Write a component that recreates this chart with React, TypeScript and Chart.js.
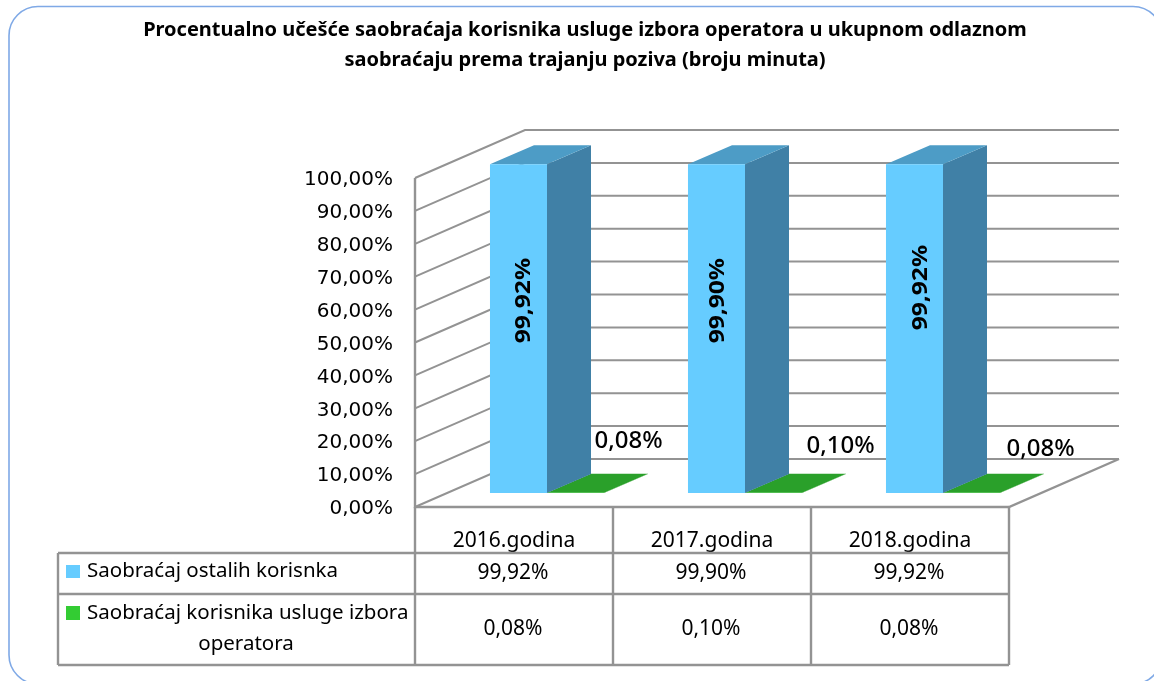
import React, { useEffect, useRef } from "react";
import { Chart, registerables } from "chart.js";

Chart.register(...registerables);

const titleLines = [
  "Procentualno učešće saobraćaja korisnika usluge izbora operatora u ukupnom odlaznom",
  "saobraćaju prema trajanju poziva (broju minuta)",
];
const categories = ["2016.godina", "2017.godina", "2018.godina"];
const otherUsers = [99.92, 99.9, 99.92];
const carrierUsers = [0.08, 0.1, 0.08];
const otherName = "Saobraćaj ostalih korisnka";
const carrierNameLines = ["Saobraćaj korisnika usluge izbora", "operatora"];

const FONT = "'Noto Sans', sans-serif";
const AXIS_FONT = "'DejaVu Sans', sans-serif";
const GRID = "#939393";
const BLUE = "#66CCFF";
const BLUE_SIDE = "#4080A6";
const BLUE_TOP = "#4D9CC6";
const GREEN = "#33CC33";
const GREEN_DARK = "#2AA02A";

// 3D projection of the chart box
const WALL = { dx: 110, dy: -48 };
const PLANE = { dx: 33, dy: -14 };
const DEPTH = { dx: 44, dy: -19 };
const TABLE = { left: 58, headerBottom: 553, row1Bottom: 594, bottom: 665 };

const fmt = (v: number) => v.toFixed(2).replace(".", ",") + "%";

function line(ctx: CanvasRenderingContext2D, pts: number[][]) {
  ctx.beginPath();
  pts.forEach(([x, y], i) => (i ? ctx.lineTo(x, y) : ctx.moveTo(x, y)));
  ctx.stroke();
}
function poly(ctx: CanvasRenderingContext2D, pts: number[][], fill: string) {
  ctx.beginPath();
  pts.forEach(([x, y], i) => (i ? ctx.lineTo(x, y) : ctx.moveTo(x, y)));
  ctx.closePath();
  ctx.fillStyle = fill;
  ctx.fill();
}

const box3d = {
  id: "box3d",
  beforeDraw(chart: any) {
    const ctx = chart.ctx as CanvasRenderingContext2D;
    ctx.save();
    ctx.fillStyle = "#ffffff";
    ctx.fillRect(0, 0, chart.width, chart.height);
    ctx.strokeStyle = "#7FA9E6";
    ctx.lineWidth = 1.6;
    ctx.beginPath();
    ctx.roundRect(9, 6.5, 1153, 677.5, 29);
    ctx.stroke();
    ctx.fillStyle = "#000";
    ctx.font = `bold 20px ${FONT}`;
    ctx.textAlign = "center";
    ctx.textBaseline = "middle";
    titleLines.forEach((t, i) => ctx.fillText(t, 585, 30 + i * 30));
    ctx.restore();
  },
  beforeDatasetsDraw(chart: any) {
    const ctx = chart.ctx as CanvasRenderingContext2D;
    const { x: xs, y: ys } = chart.scales;
    ctx.save();
    ctx.strokeStyle = GRID;
    ctx.lineWidth = 2;
    const l = xs.left;
    const r = xs.right;
    ys.ticks.forEach((t: any) => {
      const y = ys.getPixelForValue(t.value);
      line(ctx, [
        [l, y],
        [l + WALL.dx, y + WALL.dy],
        [r + WALL.dx, y + WALL.dy],
      ]);
    });
    const bottom = ys.getPixelForValue(0);
    const top = ys.getPixelForValue(100);
    ctx.lineWidth = 2.4;
    line(ctx, [
      [l, top],
      [l, bottom],
      [r, bottom],
      [r + WALL.dx, bottom + WALL.dy],
    ]);
    ctx.restore();
  },
  beforeDatasetDraw(chart: any, args: any) {
    const ctx = chart.ctx as CanvasRenderingContext2D;
    ctx.save();
    ctx.translate(PLANE.dx, PLANE.dy);
    const isBlue = args.index === 0;
    args.meta.data.forEach((b: any) => {
      const x0 = b.x - b.width / 2;
      const x1 = b.x + b.width / 2;
      const side = isBlue ? BLUE_SIDE : GREEN_DARK;
      const topC = isBlue ? BLUE_TOP : GREEN_DARK;
      poly(ctx, [[x1, b.y], [x1 + DEPTH.dx, b.y + DEPTH.dy], [x1 + DEPTH.dx, b.base + DEPTH.dy], [x1, b.base]], side);
      poly(ctx, [[x0, b.y], [x0 + DEPTH.dx, b.y + DEPTH.dy], [x1 + DEPTH.dx, b.y + DEPTH.dy], [x1, b.y]], topC);
    });
  },
  afterDatasetDraw(chart: any) {
    chart.ctx.restore();
  },
  afterDatasetsDraw(chart: any) {
    const ctx = chart.ctx as CanvasRenderingContext2D;
    ctx.save();
    ctx.fillStyle = "#000";
    ctx.textBaseline = "middle";
    ctx.textAlign = "center";
    ctx.font = `bold 21px ${FONT}`;
    const blueShift = [[6, -28], [2, -28], [7, -41]];
    const greenPos = [[53, -52], [67, -47], [69, -44]];
    chart.getDatasetMeta(0).data.forEach((b: any, i: number) => {
      ctx.save();
      ctx.translate(b.x + PLANE.dx + blueShift[i][0], (b.y + b.base) / 2 + PLANE.dy + blueShift[i][1]);
      ctx.rotate(-Math.PI / 2);
      ctx.scale(1.17, 1);
      ctx.fillText(fmt(otherUsers[i]), 0, 0);
      ctx.restore();
    });
    ctx.font = `500 24px ${FONT}`;
    chart.getDatasetMeta(1).data.forEach((b: any, i: number) => {
      ctx.fillText(fmt(carrierUsers[i]), b.x + PLANE.dx + greenPos[i][0], b.y + PLANE.dy + greenPos[i][1]);
    });

    // data table
    const { x: xs, y: ys } = chart.scales;
    const bottom = ys.getPixelForValue(0);
    ctx.strokeStyle = GRID;
    ctx.lineWidth = 2.4;
    const T = TABLE;
    line(ctx, [[T.left, T.headerBottom], [xs.right, T.headerBottom]]);
    line(ctx, [[T.left, T.row1Bottom], [xs.right, T.row1Bottom]]);
    line(ctx, [[T.left, T.bottom], [xs.right, T.bottom]]);
    line(ctx, [[T.left, T.headerBottom], [T.left, T.bottom]]);
    const cw = (xs.right - xs.left) / categories.length;
    for (let i = 0; i <= categories.length; i++) {
      line(ctx, [[xs.left + i * cw, bottom], [xs.left + i * cw, T.bottom]]);
    }
    ctx.font = `21px ${FONT}`;
    categories.forEach((_, i) => {
      const cx = xs.getPixelForValue(i);
      ctx.fillText(fmt(otherUsers[i]), cx - 1, 573);
      ctx.fillText(fmt(carrierUsers[i]), cx - 1, 629);
    });
    ctx.fillStyle = BLUE;
    ctx.fillRect(66, 565, 14, 13);
    ctx.fillStyle = GREEN;
    ctx.fillRect(66, 606, 14, 14);
    ctx.fillStyle = "#000";
    ctx.font = `20.5px ${FONT}`;
    ctx.textAlign = "left";
    ctx.fillText(otherName, 87, 571);
    ctx.fillText(carrierNameLines[0], 87, 613);
    ctx.textAlign = "center";
    ctx.fillText(carrierNameLines[1], 246, 644);
    ctx.restore();
  },
};

export default function App() {
  const ref = useRef<HTMLCanvasElement>(null);
  useEffect(() => {
    const chart = new Chart(ref.current!, {
      type: "bar",
      data: {
        labels: categories,
        datasets: [
          { label: otherName, data: otherUsers, backgroundColor: BLUE, clip: false } as any,
          { label: carrierNameLines.join(" "), data: carrierUsers, backgroundColor: GREEN, clip: false } as any,
        ],
      },
      plugins: [box3d],
      options: {
        responsive: false,
        animation: false,
        devicePixelRatio: 1,
        layout: { padding: { top: 178, right: 145, left: 0, bottom: 0 } },
        plugins: { legend: { display: false }, title: { display: false }, tooltip: { enabled: false } },
        datasets: { bar: { categoryPercentage: 0.576, barPercentage: 1 } },
        scales: {
          x: {
            grid: { display: false },
            border: { display: false },
            ticks: { color: "#000", font: { family: FONT, size: 21 }, padding: 13, maxRotation: 0 },
            afterFit: (s: any) => { s.height = 174; },
          },
          y: {
            min: 0,
            max: 100,
            grid: { display: false },
            border: { display: false },
            ticks: {
              stepSize: 10,
              color: "#000",
              font: { family: AXIS_FONT, size: 20 },
              padding: 14,
              labelOffset: 2,
              callback: (v: any) => fmt(Number(v)),
            },
            afterFit: (s: any) => { s.width = 415; },
          },
        },
      } as any,
    });
    return () => chart.destroy();
  }, []);
  return (
    <canvas
      ref={ref}
      width={1154}
      height={681}
      style={{ position: "absolute", left: 0, top: 0, width: 1154, height: 681, filter: "blur(0.35px)" }}
    />
  );
}
